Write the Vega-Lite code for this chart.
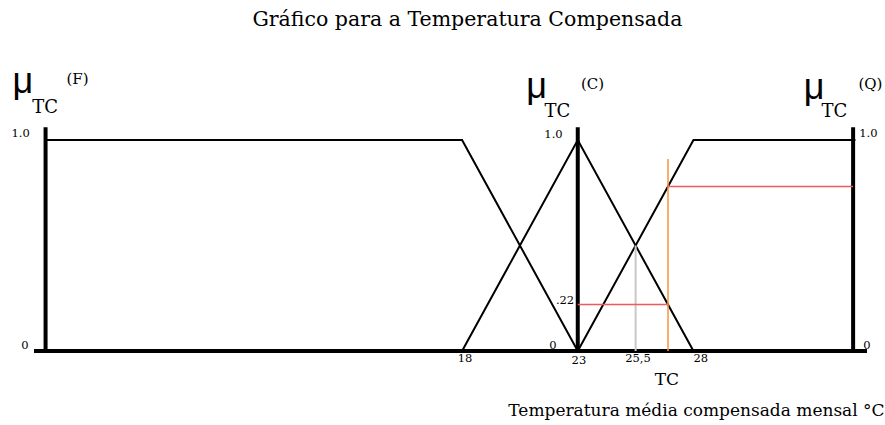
{
  "$schema": "https://vega.github.io/schema/vega-lite/v6.json",
  "width": 833,
  "height": 211,
  "autosize": "none",
  "padding": {"left": 34, "top": 140, "right": 18, "bottom": 74},
  "background": "white",
  "config": {"view": {"stroke": null}},
  "datasets": {
    "sets": [
      {"set": "F", "i": 0, "tc": 0, "mu": 1},
      {"set": "F", "i": 1, "tc": 18, "mu": 1},
      {"set": "F", "i": 2, "tc": 23, "mu": 0},
      {"set": "C", "i": 0, "tc": 18, "mu": 0},
      {"set": "C", "i": 1, "tc": 23, "mu": 1},
      {"set": "C", "i": 2, "tc": 28, "mu": 0},
      {"set": "Q", "i": 0, "tc": 23, "mu": 0},
      {"set": "Q", "i": 1, "tc": 28, "mu": 1},
      {"set": "Q", "i": 2, "tc": 35, "mu": 1}
    ],
    "frame": [
      {"tc": -0.5, "tc2": 35.5, "mu": 0, "mu2": 0},
      {"tc": 0, "tc2": 0, "mu": 0, "mu2": 1.06},
      {"tc": 23, "tc2": 23, "mu": 0, "mu2": 1.06},
      {"tc": 34.9, "tc2": 34.9, "mu": 0, "mu2": 1.06}
    ],
    "half": [{"tc": 25.5, "tc2": 25.5, "mu": 0, "mu2": 0.5}],
    "reading": [{"tc": 26.9, "tc2": 26.9, "mu": 0, "mu2": 0.91}],
    "degrees": [
      {"tc": 23, "tc2": 26.9, "mu": 0.22, "mu2": 0.22},
      {"tc": 26.9, "tc2": 34.9, "mu": 0.78, "mu2": 0.78}
    ],
    "mus": [
      {"t": "μ", "tc": -0.98, "mu": 1.222},
      {"t": "μ", "tc": 21.22, "mu": 1.199},
      {"t": "μ", "tc": 33.21, "mu": 1.194}
    ],
    "subs": [
      {"t": "TC", "tc": -0.02, "mu": 1.128},
      {"t": "TC", "tc": 22.12, "mu": 1.109},
      {"t": "TC", "tc": 34.09, "mu": 1.109}
    ],
    "sups": [
      {"t": "(F)", "tc": 1.38, "mu": 1.265},
      {"t": "(C)", "tc": 23.64, "mu": 1.242},
      {"t": "(Q)", "tc": 35.65, "mu": 1.242}
    ],
    "small": [
      {"t": "1.0", "tc": -1.08, "mu": 1.014},
      {"t": "1.0", "tc": 21.95, "mu": 1.009},
      {"t": "1.0", "tc": 35.56, "mu": 1.014},
      {"t": "0", "tc": -0.89, "mu": 0.0095},
      {"t": "0", "tc": 21.93, "mu": 0.0095},
      {"t": "0", "tc": 35.5, "mu": 0.0095},
      {"t": ".22", "tc": 22.45, "mu": 0.223},
      {"t": "18", "tc": 18.13, "mu": -0.052},
      {"t": "23", "tc": 23.05, "mu": -0.062},
      {"t": "25,5", "tc": 25.6, "mu": -0.052},
      {"t": "28", "tc": 28.32, "mu": -0.052}
    ],
    "tclabel": [{"t": "TC", "tc": 26.85, "mu": -0.161}],
    "axistitle": [{"t": "Temperatura média compensada mensal °C", "tc": 28.13, "mu": -0.308}],
    "heading": [{"t": "Gráfico para a Temperatura Compensada", "tc": 18.23, "mu": 1.54}]
  },
  "layer": [
    {
      "data": {"name": "frame"},
      "mark": {"type": "rule", "color": "black", "strokeWidth": 4},
      "encoding": {
        "x": {"field": "tc", "type": "quantitative", "scale": {"domain": [-0.5, 35.5], "nice": false, "zero": false}, "axis": null},
        "x2": {"field": "tc2"},
        "y": {"field": "mu", "type": "quantitative", "scale": {"domain": [0, 1], "nice": false, "zero": false}, "axis": null},
        "y2": {"field": "mu2"}
      }
    },
    {
      "data": {"name": "sets"},
      "mark": {"type": "line", "color": "black", "strokeWidth": 2},
      "encoding": {
        "x": {"field": "tc", "type": "quantitative"},
        "y": {"field": "mu", "type": "quantitative"},
        "detail": {"field": "set"},
        "order": {"field": "i"}
      }
    },
    {
      "data": {"name": "half"},
      "mark": {"type": "rule", "color": "#c8c8c8", "strokeWidth": 2},
      "encoding": {
        "x": {"field": "tc", "type": "quantitative"},
        "x2": {"field": "tc2"},
        "y": {"field": "mu", "type": "quantitative"},
        "y2": {"field": "mu2"}
      }
    },
    {
      "data": {"name": "degrees"},
      "mark": {"type": "rule", "color": "#f05a5a", "strokeWidth": 1.5},
      "encoding": {
        "x": {"field": "tc", "type": "quantitative"},
        "x2": {"field": "tc2"},
        "y": {"field": "mu", "type": "quantitative"},
        "y2": {"field": "mu2"}
      }
    },
    {
      "data": {"name": "reading"},
      "mark": {"type": "rule", "color": "#f7943c", "strokeWidth": 1.5},
      "encoding": {
        "x": {"field": "tc", "type": "quantitative"},
        "x2": {"field": "tc2"},
        "y": {"field": "mu", "type": "quantitative"},
        "y2": {"field": "mu2"}
      }
    },
    {
      "data": {"name": "mus"},
      "mark": {"type": "text", "font": "Liberation Sans, Arial, sans-serif", "fontSize": 36, "align": "center", "baseline": "alphabetic", "color": "black"},
      "encoding": {
        "x": {"field": "tc", "type": "quantitative"},
        "y": {"field": "mu", "type": "quantitative"},
        "text": {"field": "t"}
      }
    },
    {
      "data": {"name": "subs"},
      "mark": {"type": "text", "font": "DejaVu Serif, serif", "fontSize": 18, "align": "center", "baseline": "alphabetic", "color": "black"},
      "encoding": {
        "x": {"field": "tc", "type": "quantitative"},
        "y": {"field": "mu", "type": "quantitative"},
        "text": {"field": "t"}
      }
    },
    {
      "data": {"name": "sups"},
      "mark": {"type": "text", "font": "DejaVu Serif, serif", "fontSize": 15, "align": "center", "baseline": "alphabetic", "color": "black"},
      "encoding": {
        "x": {"field": "tc", "type": "quantitative"},
        "y": {"field": "mu", "type": "quantitative"},
        "text": {"field": "t"}
      }
    },
    {
      "data": {"name": "small"},
      "mark": {"type": "text", "font": "DejaVu Serif, serif", "fontSize": 11.5, "align": "center", "baseline": "alphabetic", "color": "black"},
      "encoding": {
        "x": {"field": "tc", "type": "quantitative"},
        "y": {"field": "mu", "type": "quantitative"},
        "text": {"field": "t"}
      }
    },
    {
      "data": {"name": "tclabel"},
      "mark": {"type": "text", "font": "DejaVu Serif, serif", "fontSize": 17, "align": "center", "baseline": "alphabetic", "color": "black"},
      "encoding": {
        "x": {"field": "tc", "type": "quantitative"},
        "y": {"field": "mu", "type": "quantitative"},
        "text": {"field": "t"}
      }
    },
    {
      "data": {"name": "axistitle"},
      "mark": {"type": "text", "font": "DejaVu Serif, serif", "fontSize": 17, "align": "center", "baseline": "alphabetic", "color": "black"},
      "encoding": {
        "x": {"field": "tc", "type": "quantitative"},
        "y": {"field": "mu", "type": "quantitative"},
        "text": {"field": "t"}
      }
    },
    {
      "data": {"name": "heading"},
      "mark": {"type": "text", "font": "DejaVu Serif, serif", "fontSize": 20.5, "align": "center", "baseline": "alphabetic", "color": "black"},
      "encoding": {
        "x": {"field": "tc", "type": "quantitative"},
        "y": {"field": "mu", "type": "quantitative"},
        "text": {"field": "t"}
      }
    }
  ]
}
